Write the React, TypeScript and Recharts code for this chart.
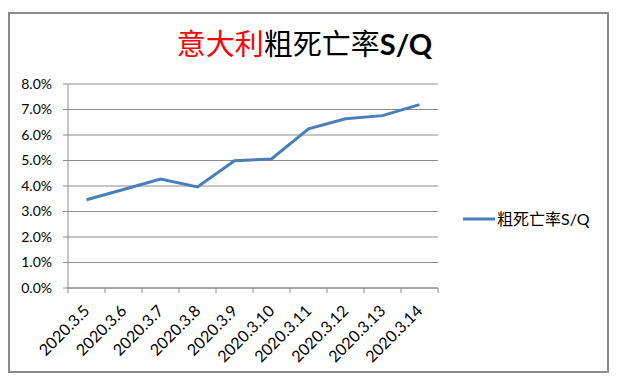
import React from 'react';
import { LineChart, Line, XAxis, YAxis, CartesianGrid, Legend } from 'recharts';

const categories = ['2020.3.5', '2020.3.6', '2020.3.7', '2020.3.8', '2020.3.9', '2020.3.10', '2020.3.11', '2020.3.12', '2020.3.13', '2020.3.14'];
const rates = [3.46, 3.86, 4.27, 3.96, 4.99, 5.06, 6.24, 6.64, 6.76, 7.19];
const yTicks = [0, 1, 2, 3, 4, 5, 6, 7, 8];
const seriesName = '粗死亡率S/Q';
const titleRed = '意大利';
const titleBlack = '粗死亡率';
const titleLatin = 'S/Q';

const data = categories.map((c, i) => ({ date: c, rate: rates[i] }));

const AXIS = '#8c8c8c';
const LINE = '#4a7ebb';
const FONT = "Lato, 'Noto Sans CJK SC', sans-serif";

const XTick = (props: any) => {
  const { x, y, payload, index, visibleTicksCount, width } = props;
  const bw = width / visibleTicksCount;
  const last = index === visibleTicksCount - 1;
  const ax = x + 4;
  const ay = y + 24;
  return (
    <g>
      <line x1={x - bw / 2} y1={y} x2={x - bw / 2} y2={y + 5} stroke={AXIS} strokeWidth={1} />
      {last && <line x1={x + bw / 2} y1={y} x2={x + bw / 2} y2={y + 5} stroke={AXIS} strokeWidth={1} />}
      <text
        x={ax}
        y={ay}
        textAnchor="end"
        transform={`rotate(-45, ${ax}, ${ay})`}
        fontSize={16}
        fontFamily={FONT}
        fill="#000"
      >
        {payload.value}
      </text>
    </g>
  );
};

const LegendContent = () => (
  <div style={{ display: 'flex', alignItems: 'center', fontFamily: FONT, fontSize: 16, lineHeight: '20px', color: '#000', whiteSpace: 'nowrap' }}>
    <svg width={34} height={6} style={{ display: 'block' }}>
      <line x1={0} y1={3} x2={32} y2={3} stroke={LINE} strokeWidth={3} />
    </svg>
    <span style={{ marginLeft: 0 }}>{seriesName}</span>
  </div>
);

export default function App() {
  return (
    <div style={{ position: 'relative', width: 611, height: 372 }}>
      <div style={{ position: 'absolute', left: -8, top: -8, width: 7, height: 7, borderRight: '1px solid #a0a0a0', borderBottom: '1px solid #a0a0a0' }} />
      <div style={{ position: 'absolute', left: 0, top: 4 }}>
        <LineChart width={601} height={361} data={data} margin={{ top: 72, right: 171, bottom: 1, left: 0 }}>
          <CartesianGrid vertical={false} stroke={AXIS} strokeWidth={1} />
          <XAxis
            dataKey="date"
            height={84}
            stroke={AXIS}
            tickLine={false}
            tickSize={0}
            tickMargin={0}
            interval={0}
            padding={{ left: 18.5, right: 18.5 }}
            tick={<XTick />}
          />
          <YAxis
            width={60}
            domain={[0, 8]}
            ticks={yTicks}
            stroke={AXIS}
            tickSize={5}
            tickMargin={11}
            tickFormatter={(v: number) => `${v.toFixed(1)}%`}
            tick={{ fill: '#000', fontSize: 14, fontFamily: FONT }}
          />
          <Legend
            layout="horizontal"
            verticalAlign="middle"
            align="center"
            content={<LegendContent />}
            wrapperStyle={{ position: 'absolute', left: 455, top: 197, width: 'auto' }}
          />
          <Line
            type="linear"
            dataKey="rate"
            name={seriesName}
            stroke={LINE}
            strokeWidth={3}
            dot={false}
            activeDot={false}
            isAnimationActive={false}
          />
        </LineChart>
      </div>
      <div
        style={{
          position: 'absolute',
          left: 0,
          top: 4,
          width: 601,
          height: 361,
          boxSizing: 'border-box',
          border: '2px solid #8c8c8c',
          pointerEvents: 'none',
        }}
      />
      <div
        style={{
          position: 'absolute',
          left: -4,
          width: 601,
          top: 20,
          textAlign: 'center',
          fontSize: 29,
          lineHeight: '29px',
          fontFamily: "'Noto Sans CJK SC', sans-serif",
          whiteSpace: 'nowrap',
        }}
      >
        <span style={{ color: '#ff0000' }}>{titleRed}</span>
        <span style={{ color: '#000' }}>{titleBlack}</span>
        <span style={{ color: '#000', fontWeight: 'bold', fontFamily: "Lato, sans-serif" }}>{titleLatin}</span>
      </div>
    </div>
  );
}
